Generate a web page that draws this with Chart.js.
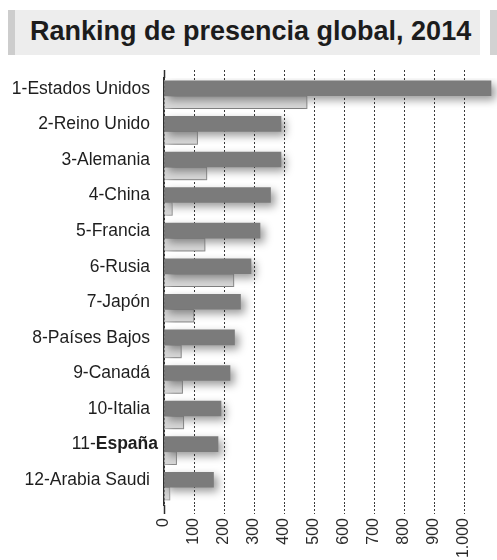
<!DOCTYPE html>
<html lang="es">
<head>
<meta charset="utf-8">
<title>Ranking de presencia global, 2014</title>
<script src="https://cdn.jsdelivr.net/npm/chart.js@4.4.1/dist/chart.umd.min.js"></script>
<style>
  html, body { margin: 0; padding: 0; background: #fff; }
  #wrap { position: relative; width: 497px; height: 560px; overflow: hidden; }
  #banner {
    position: absolute; left: 8px; top: 10px; width: 472px; height: 45px;
    background: #ededed; border-left: 7px solid #cdcdcd; box-sizing: border-box;
  }
  #banner-end {
    position: absolute; left: 490px; top: 10px; width: 7px; height: 45px; background: #d2d2d2;
  }
  #title {
    position: absolute; left: 30px; top: 18px; margin: 0;
    font: bold 27px "Liberation Sans", Arial, sans-serif; line-height: 27px;
    color: #1c1c1c; white-space: nowrap;
  }
  #chart { position: absolute; left: 0; top: 0; }
</style>
</head>
<body>
<div id="wrap">
  <div id="banner"></div>
  <div id="banner-end"></div>
  <h1 id="title">Ranking de presencia global, 2014</h1>
  <canvas id="chart" width="497" height="560"></canvas>
</div>
<script>
(function () {
  'use strict';

  // Países en orden de ranking
  var paises = [
    '1-Estados Unidos', '2-Reino Unido', '3-Alemania', '4-China', '5-Francia',
    '6-Rusia', '7-Japón', '8-Países Bajos', '9-Canadá', '10-Italia',
    '11-España', '12-Arabia Saudi'
  ];
  var presencia = [1090, 390, 390, 355, 320, 290, 255, 235, 220, 190, 180, 165];
  var secundaria = [477, 112, 143, 28, 137, 233, 100, 58, 62, 66, 42, 20];
  var ticksX = [0, 100, 200, 300, 400, 500, 600, 700, 800, 900, 1000];
  var maxX = 1110;

  var FONT = '"Liberation Sans", Arial, sans-serif';
  var ESPANA = 10;
  var LABEL_SHIFT = -7;
  var AXIS = '#2e2e2e';
  var GRID = '#3a3a3a';

  function keepTicks(scale) {
    scale.ticks = ticksX.map(function (v) { return { value: v }; });
  }

  function fmt(v) {
    return String(v).replace(/\B(?=(\d{3})+(?!\d))/g, '.');
  }

  // the zero tick continues the y axis line, the others stay dotted
  function tickDash(c) { return c.tick && c.tick.value === 0 ? [] : [2, 2]; }
  function tickColor(c) { return c.tick && c.tick.value === 0 ? AXIS : GRID; }
  function tickWidth(c) { return c.tick && c.tick.value === 0 ? 1.5 : 1; }

  // soft drop shadow under every bar
  var barShadow = {
    id: 'barShadow',
    beforeDatasetsDraw: function (chart) {
      var ctx = chart.ctx;
      ctx.save();
      ctx.shadowColor = 'rgba(0,0,0,0.4)';
      ctx.shadowBlur = 8;
      ctx.shadowOffsetX = 4;
      ctx.shadowOffsetY = 4;
    },
    afterDatasetsDraw: function (chart) {
      chart.ctx.restore();
    }
  };

  // "11-" regular + "España" bold
  var mixedLabel = {
    id: 'mixedLabel',
    afterDraw: function (chart) {
      var y = chart.scales.y;
      var ctx = chart.ctx;
      var py = y.getPixelForTick(ESPANA) + LABEL_SHIFT;
      var right = y.right - 6;
      ctx.save();
      ctx.textBaseline = 'middle';
      ctx.textAlign = 'right';
      ctx.fillStyle = '#1e1e1e';
      ctx.font = 'bold 17.5px ' + FONT;
      ctx.fillText('España', right, py);
      var w = ctx.measureText('España').width;
      ctx.font = '17.5px ' + FONT;
      ctx.fillText('11-', right - w, py);
      ctx.restore();
    }
  };

  new Chart(document.getElementById('chart'), {
    type: 'bar',
    data: {
      labels: paises,
      datasets: [
        {
          label: 'Presencia',
          data: presencia,
          backgroundColor: '#7b7b7b',
          borderWidth: 0,
          barThickness: 15
        },
        {
          label: 'Secundaria',
          data: secundaria,
          backgroundColor: '#d8d8d8',
          borderColor: '#b8b8b8',
          borderWidth: 1,
          barThickness: 13
        }
      ]
    },
    options: {
      indexAxis: 'y',
      responsive: false,
      animation: false,
      layout: { padding: { top: 70, left: 0, right: 0, bottom: 0 } },
      plugins: {
        legend: { display: false },
        tooltip: { enabled: false }
      },
      scales: {
        x: {
          type: 'linear',
          position: 'bottom',
          min: 0,
          max: maxX,
          afterBuildTicks: keepTicks,
          afterFit: function (s) { s.height = 55; },
          border: { display: false, dash: [2, 2] },
          grid: {
            color: GRID,
            lineWidth: 1,
            tickLength: 9,
            tickBorderDash: tickDash,
            tickColor: tickColor,
            tickWidth: tickWidth
          },
          ticks: {
            minRotation: 90,
            maxRotation: 90,
            padding: 4,
            color: '#2a2a2a',
            font: { family: FONT, size: 16 },
            callback: function (v) { return fmt(v); }
          }
        },
        xTop: {
          type: 'linear',
          position: 'top',
          axis: 'x',
          min: 0,
          max: maxX,
          afterBuildTicks: keepTicks,
          afterFit: function (s) { s.height = 8; },
          border: { display: false },
          grid: {
            drawOnChartArea: false,
            color: GRID,
            tickLength: 8,
            tickBorderDash: tickDash,
            tickColor: tickColor,
            tickWidth: tickWidth
          },
          ticks: { display: false }
        },
        y: {
          afterFit: function (s) { s.width = 164; },
          border: { display: true, color: AXIS, width: 1.5 },
          grid: { display: false },
          ticks: {
            padding: 6,
            labelOffset: LABEL_SHIFT,
            color: function (c) { return c.index === ESPANA ? 'rgba(0,0,0,0)' : '#1e1e1e'; },
            font: { family: FONT, size: 17.5 }
          }
        }
      }
    },
    plugins: [barShadow, mixedLabel]
  });
})();
</script>
</body>
</html>
